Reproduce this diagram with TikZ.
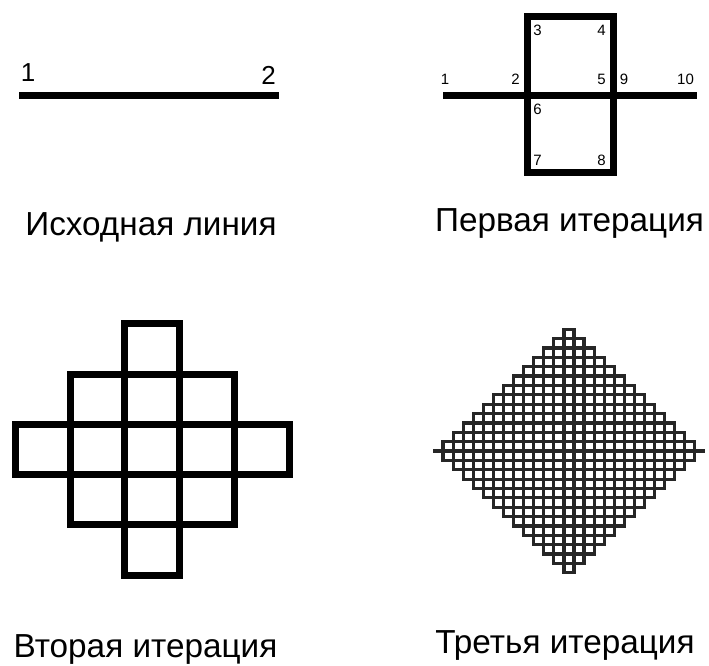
\documentclass[tikz,border=0pt]{standalone}
\usepackage{fontspec}
\setmainfont{Liberation Sans}
\usetikzlibrary{lindenmayersystems}
\pgfdeclarelindenmayersystem{PeanoCurve}{
  \rule{F -> F+F-F-F-F+F+F+F-F}
}
\tikzset{
  thickline/.style={line width=7pt, line join=miter, line cap=butt, black},
  caption/.style={font=\fontsize{33.3}{36}\selectfont, anchor=base, inner sep=0pt},
  biglab/.style={font=\fontsize{26}{28}\selectfont, inner sep=0pt},
  smalllab/.style={font=\fontsize{15}{17}\selectfont, inner sep=0pt},
  fineline/.style={line width=3.2pt, black!85, line join=miter},
}
\begin{document}
\begin{tikzpicture}[x=1pt,y=-1pt]
\useasboundingbox (0,0) rectangle (709,665);

% ---- Iteration 0
\coordinate (a1) at (19,95);
\coordinate (a2) at (279,95);
\draw[thickline] (a1) -- (a2);
\node[biglab] (la1) at (28,73) {1};
\node[biglab] (la2) at (268.5,75) {2};
\node[caption] (c0) at (151,235) {Исходная линия};

% ---- Iteration 1
\coordinate (p1) at (443,95);
\coordinate (p2) at (527.5,95);
\coordinate (p3) at (527.5,16);
\coordinate (p4) at (613,16);
\coordinate (p5) at (613,95);
\coordinate (p6) at (527.5,95);
\coordinate (p7) at (527.5,172.5);
\coordinate (p8) at (613,172.5);
\coordinate (p9) at (613,95);
\coordinate (p10) at (697,95);
\draw[thickline] (p1) -- (p2) -- (p3) -- (p4) -- (p5) -- (p6) -- (p7) -- (p8) -- (p9) -- (p10);
\node[smalllab] (n1) at (445,79) {1};
\node[smalllab] (n2) at (515.5,79) {2};
\node[smalllab] (n3) at (537.5,30.5) {3};
\node[smalllab] (n4) at (601.5,30.5) {4};
\node[smalllab] (n5) at (601.5,79) {5};
\node[smalllab] (n6) at (537.5,109) {6};
\node[smalllab] (n7) at (537.5,160.5) {7};
\node[smalllab] (n8) at (601.5,160.5) {8};
\node[smalllab] (n9) at (624,79) {9};
\node[smalllab] (n10) at (685.5,79) {10};
\node[caption] (c1) at (569.5,231) {Первая итерация};

% ---- Iteration 2
\foreach \i/\j in {2/0, 1/1,2/1,3/1, 0/2,1/2,2/2,3/2,4/2, 1/3,2/3,3/3, 2/4}{
  \draw[thickline] ({15.3+54.84*\i},{323.7+50.3*\j}) rectangle ({15.3+54.84*(\i+1)},{323.7+50.3*(\j+1)});
}
\node[caption] (c2) at (145.5,657) {Вторая итерация};

% ---- Iteration 3
\begin{scope}[shift={(433,451)}, yscale=0.93]
  \draw[fineline, lindenmayer system={PeanoCurve, axiom=F, order=3, step=10.07pt, angle=90}] (0,0) lindenmayer system;
\end{scope}
\node[caption] (c3) at (565,653) {Третья итерация};
\end{tikzpicture}
\end{document}
